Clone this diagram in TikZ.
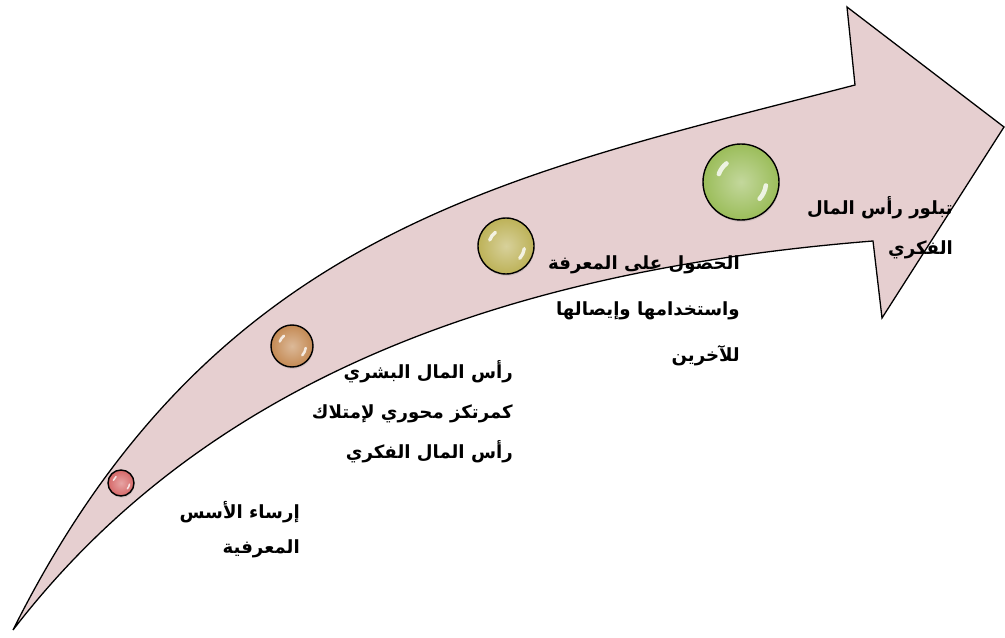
\documentclass[tikz,border=0pt]{standalone}
\usepackage{fontspec}
\newfontfamily\arabicfont[Script=Arabic]{DejaVu Sans}
\TeXXeTstate=1
\usetikzlibrary{shadows,calc}
\definecolor{band}{RGB}{230,207,208}
\definecolor{beadred}{RGB}{214,104,104}
\definecolor{beadorange}{RGB}{196,138,84}
\definecolor{beadolive}{RGB}{189,178,88}
\definecolor{beadgreen}{RGB}{155,189,90}

\begin{document}
\begin{tikzpicture}[x=0.03cm, y=0.03cm,
  bead/.style={circle, draw=black, line width=1.2pt, inner sep=0pt,
    inner color=#1!60!white, outer color=#1,
    drop shadow={opacity=0.25, shadow xshift=0.5pt, shadow yshift=-1.5pt}},
  lbl/.style={font=\arabicfont\bfseries\fontsize{15.5}{#1}\selectfont, align=right, anchor=east, inner sep=0pt},
  lbl/.default=34pt,
  shine/.style={white, opacity=0.8, line cap=round},
]
\useasboundingbox (0,0) rectangle (1005,637);

% curved arrow
\filldraw[fill=band, draw=black, line width=1.1pt]
  (13,7) .. controls (213,407) and (505,461) .. (855,552)
  -- (847,630) -- (1004,510) -- (882,319) -- (873,396)
  .. controls (523,368) and (213,267) .. cycle;

% beads along the arrow
\foreach \nm/\px/\py/\r/\col in {p1/121/154/13/beadred, p2/292/291/21/beadorange,
    p3/506/391/28/beadolive, p4/741/455/38/beadgreen} {
  \node[bead=\col, minimum size=2*\r*0.03cm] (\nm) at (\px,\py) {};
  \draw[shine, line width=0.12*\r*0.03cm] ($(\nm.center)+(160:0.62*\r)$) arc (160:128:0.62*\r);
  \draw[shine, line width=0.12*\r*0.03cm] ($(\nm.center)+(-8:0.66*\r)$) arc (-8:-42:0.66*\r);
}

% labels
\node[lbl=30pt] (t1) at (300,107) {\beginR إرساء الأسس\endR\\\beginR المعرفية\endR};
\node[lbl] (t2) at (513,225) {\beginR رأس المال البشري\endR\\\beginR كمرتكز محوري لإمتلاك\endR\\\beginR رأس المال الفكري\endR};
\node[lbl=39pt] (t3) at (740,326) {\beginR الحصول على المعرفة\endR\\\beginR واستخدامها وإيصالها\endR\\\beginR للآخرين\endR};
\node[lbl] (t4) at (953,409) {\beginR تبلور رأس المال\endR\\\beginR الفكري\endR};
\end{tikzpicture}
\end{document}
